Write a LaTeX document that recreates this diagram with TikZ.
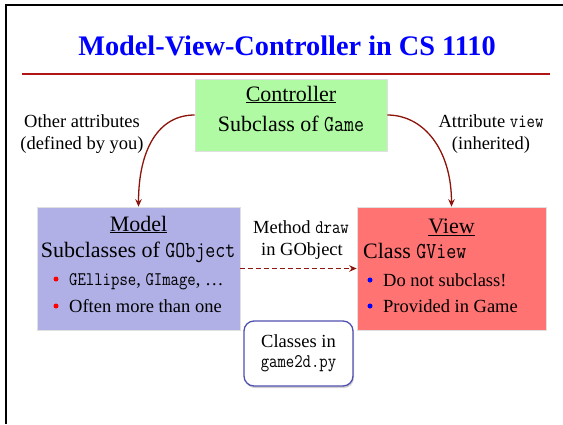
\documentclass[tikz,border=0pt]{standalone}
\usepackage{fontspec}
\setmainfont{Liberation Serif}
\usetikzlibrary{arrows.meta,shadows}
\definecolor{titleblue}{RGB}{0,0,255}
\definecolor{rulered}{RGB}{176,20,20}
\definecolor{arrowred}{RGB}{140,20,10}
\definecolor{ctrlgreen}{RGB}{175,250,162}
\definecolor{modelblue}{RGB}{176,176,230}
\definecolor{viewred}{RGB}{255,115,115}
\definecolor{noteblue}{RGB}{80,80,176}
\newcommand\cde[1]{\scalebox{0.88}[1.04]{\ttfamily #1}}
\newcommand\fs[1]{\fontsize{#1}{#1}\selectfont}
\begin{document}
\begin{tikzpicture}[x=1pt,y=-1pt,
  box/.style={draw=black!12, line width=0.6pt, inner sep=0pt,
    drop shadow={shadow xshift=0.8pt,shadow yshift=-1.2pt,opacity=0.25}},
  lbl/.style={inner sep=0pt, font=\fs{18.5}},
  big/.style={inner sep=0pt, font=\fs{22}},
  dotr/.style={circle, fill=red, inner sep=0pt, minimum size=5pt},
  dotb/.style={circle, fill=blue, inner sep=0pt, minimum size=5pt},
  link/.style={draw=arrowred, line width=1.3pt, -{Stealth[length=7.5pt,width=6.5pt]}},
]
\useasboundingbox (0,0) rectangle (563,424);
\fill[white] (0,0) rectangle (563,424);
\draw[line width=2.5pt] (6,424) -- (6,5) -- (563,5);

% title and rule
\node[inner sep=0pt, font=\fs{28.3}\bfseries, text=titleblue, anchor=base] (title) at (287,55) {Model-View-Controller in CS 1110};
\draw[rulered, line width=1.8pt] (22,74) -- (550,74);

% boxes
\node[box, fill=ctrlgreen, minimum width=192pt, minimum height=72pt] (ctrl) at (291,115) {};
\node[box, fill=modelblue, minimum width=203pt, minimum height=123pt] (model) at (138.5,268.5) {};
\node[box, fill=viewred, minimum width=189pt, minimum height=123pt] (view) at (451.5,268.5) {};
\node[draw=noteblue, line width=1.3pt, rounded corners=10pt, fill=white, minimum width=109pt, minimum height=65pt,
  drop shadow={shadow xshift=1pt,shadow yshift=-2pt,opacity=0.35}] (note) at (298.5,353.5) {};

% controller text
\node[big, anchor=base] (ctrlt) at (291,101) {\underline{Controller}};
\node[big, anchor=base] (ctrls) at (291,131) {Subclass of \cde{Game}};

% side labels
\node[lbl, anchor=base] (oa1) at (82,127) {Other attributes};
\node[lbl, anchor=base] (oa2) at (82,149) {(defined by you)};
\node[lbl, anchor=base] (av1) at (491,127) {Attribute \cde{view}};
\node[lbl, anchor=base] (av2) at (491,149) {(inherited)};

% model text
\node[big, anchor=base] (modelt) at (138.5,231) {\underline{Model}};
\node[big, anchor=base] (models) at (138,257) {Subclasses of \cde{GObject}};
\node[dotr] (mb1) at (56,279) {};
\node[lbl, anchor=base west] (mt1) at (69,285) {\cde{GEllipse}, \cde{GImage}, \ldots};
\node[dotr] (mb2) at (56,306) {};
\node[lbl, anchor=base west] (mt2) at (69,312) {Often more than one};

% view text
\node[big, anchor=base] (viewt) at (451.5,233) {\underline{View}};
\node[big, anchor=base west] (views) at (363,258) {Class \cde{GView}};
\node[dotb] (vb1) at (370,280) {};
\node[lbl, anchor=base west] (vt1) at (383,286) {Do not subclass!};
\node[dotb] (vb2) at (370,306) {};
\node[lbl, anchor=base west] (vt2) at (383,312) {Provided in Game};

% method label
\node[lbl, anchor=base] (meth1) at (301,233) {Method \cde{draw}};
\node[lbl, anchor=base] (meth2) at (302,255) {in GObject};

% note text
\node[lbl, anchor=base] (note1) at (298.5,347) {Classes in};
\node[lbl, anchor=base] (note2) at (298.5,367) {\cde{game2d.py}};

% connectors
\draw[link] (ctrl.west) .. controls (158,115) and (138.5,150) .. (model.north);
\draw[link] (ctrl.east) .. controls (424,115) and (451.5,150) .. (view.north);
\draw[link, dash pattern=on 5pt off 3pt] (model.east) -- (view.west);
\end{tikzpicture}
\end{document}
